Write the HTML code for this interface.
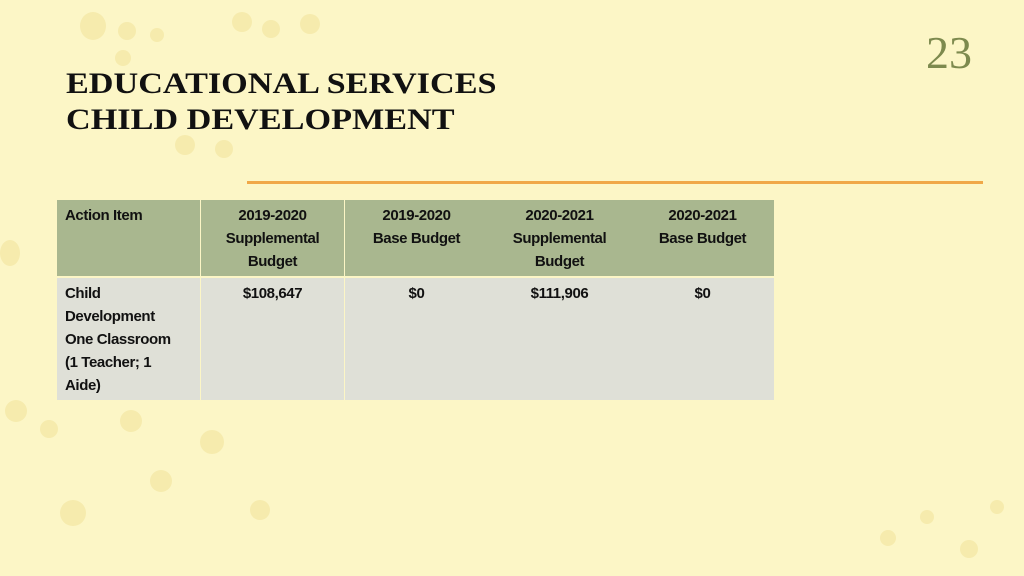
<!DOCTYPE html>
<html><head><meta charset="utf-8">
<style>
html,body{margin:0;padding:0}
body{width:1024px;height:576px;position:relative;overflow:hidden;background:#fcf6c6;font-family:"Liberation Sans",sans-serif}
.dot{position:absolute;border-radius:50%;background:#f6ebad}
.title{position:absolute;left:66px;top:66px;font-family:"Liberation Serif",serif;font-weight:bold;font-size:30px;line-height:36px;color:#111;transform:scaleX(1.14);transform-origin:0 0;white-space:nowrap}
.num{position:absolute;left:926px;top:26px;font-family:"Liberation Serif",serif;font-size:46px;color:#7d8a4e}
.rule{position:absolute;left:247px;top:181px;width:736px;height:3px;background:#f0a848}
.cell{position:absolute;width:143px;box-sizing:border-box;padding:4px 8px;font-weight:bold;font-size:15px;line-height:23px;color:#111;text-align:center;letter-spacing:-0.4px;white-space:nowrap}
.hd{top:200px;height:76px;background:#a9b78f}
.bd{top:278px;height:122px;background:#dfe0d7}
.l{text-align:left}
</style></head>
<body>
<div class="dot" style="left:80px;top:12px;width:26px;height:28px"></div>
<div class="dot" style="left:118px;top:22px;width:18px;height:18px"></div>
<div class="dot" style="left:150px;top:28px;width:14px;height:14px"></div>
<div class="dot" style="left:232px;top:12px;width:20px;height:20px"></div>
<div class="dot" style="left:262px;top:20px;width:18px;height:18px"></div>
<div class="dot" style="left:300px;top:14px;width:20px;height:20px"></div>
<div class="dot" style="left:115px;top:50px;width:16px;height:16px"></div>
<div class="dot" style="left:175px;top:135px;width:20px;height:20px"></div>
<div class="dot" style="left:215px;top:140px;width:18px;height:18px"></div>
<div class="dot" style="left:0px;top:240px;width:20px;height:26px"></div>
<div class="dot" style="left:5px;top:400px;width:22px;height:22px"></div>
<div class="dot" style="left:40px;top:420px;width:18px;height:18px"></div>
<div class="dot" style="left:120px;top:410px;width:22px;height:22px"></div>
<div class="dot" style="left:200px;top:430px;width:24px;height:24px"></div>
<div class="dot" style="left:150px;top:470px;width:22px;height:22px"></div>
<div class="dot" style="left:60px;top:500px;width:26px;height:26px"></div>
<div class="dot" style="left:250px;top:500px;width:20px;height:20px"></div>
<div class="dot" style="left:880px;top:530px;width:16px;height:16px"></div>
<div class="dot" style="left:920px;top:510px;width:14px;height:14px"></div>
<div class="dot" style="left:960px;top:540px;width:18px;height:18px"></div>
<div class="dot" style="left:990px;top:500px;width:14px;height:14px"></div>

<div class="title">EDUCATIONAL SERVICES<br>CHILD DEVELOPMENT</div>
<div class="num">23</div>
<div class="rule"></div>

<div>
<div class="cell hd l" style="left:57px">Action Item</div>
<div class="cell hd" style="left:201px">2019-2020<br>Supplemental<br>Budget</div>
<div class="cell hd" style="left:345px">2019-2020<br>Base Budget</div>
<div class="cell hd" style="left:488px">2020-2021<br>Supplemental<br>Budget</div>
<div class="cell hd" style="left:631px">2020-2021<br>Base Budget</div>
<div class="cell bd l" style="left:57px">Child<br>Development<br>One Classroom<br>(1 Teacher; 1<br>Aide)</div>
<div class="cell bd" style="left:201px">$108,647</div>
<div class="cell bd" style="left:345px">$0</div>
<div class="cell bd" style="left:488px">$111,906</div>
<div class="cell bd" style="left:631px">$0</div>
</div>
</body></html>
